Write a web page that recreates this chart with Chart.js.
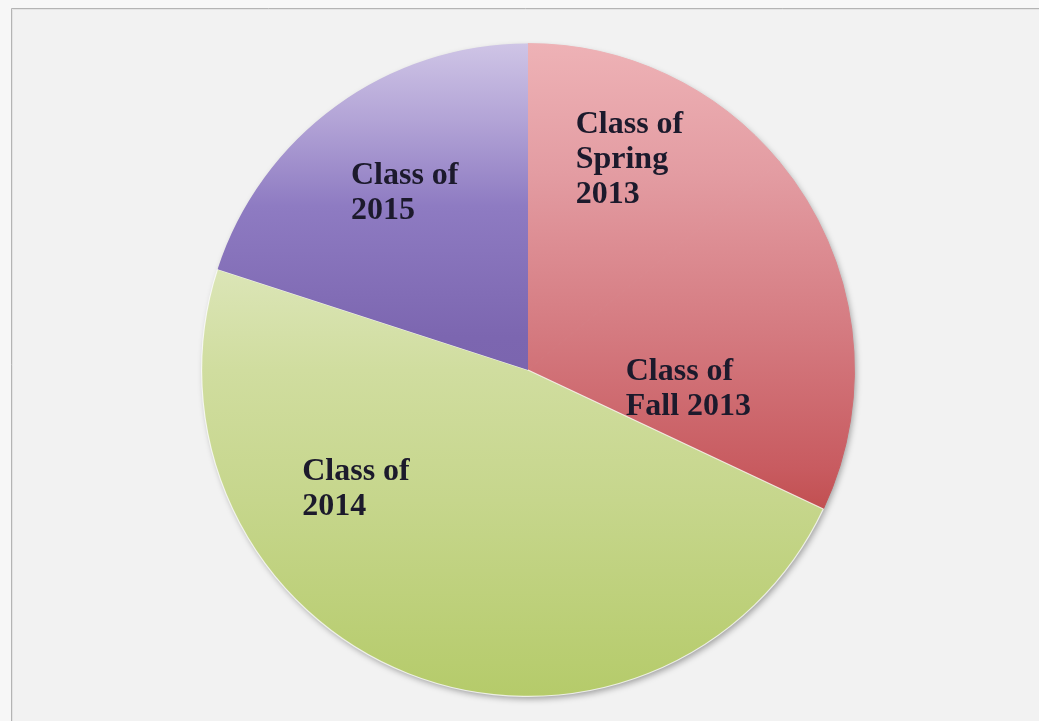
<!DOCTYPE html>
<html>
<head>
<meta charset="utf-8">
<script src="https://cdn.jsdelivr.net/npm/chart.js@4/dist/chart.umd.min.js"></script>
<style>
  html, body { margin: 0; padding: 0; background: #f6f6f6; }
  #wrap { width: 1039px; height: 721px; }
</style>
</head>
<body>
<div id="wrap"><canvas id="c" width="1039" height="721"></canvas></div>
<script>
// ---- data ----
const categories = ['Class of Spring 2013', 'Class of Fall 2013', 'Class of 2014', 'Class of 2015'];
const labelLines = [['Class of', 'Spring', '2013'], ['Class of', 'Fall 2013'], ['Class of', '2014'], ['Class of', '2015']];
const shares = [14, 18, 48, 20];

// ---- styles ----
const redStops = [[0, '#eeb2b6'], [0.2, '#e39ca2'], [0.45, '#d4797f'], [0.65, '#c85b60'], [0.72, '#c14e4f'], [1, '#b84444']];
const gradientStops = [
  redStops,
  redStops,
  [[0, '#e8eecf'], [0.35, '#dbe5b6'], [0.5, '#d0dd9f'], [0.7, '#c6d68c'], [1, '#b5cb6a']],
  [[0, '#cfc5e6'], [0.12, '#b2a3d6'], [0.25, '#8e7bc2'], [0.45, '#7c66b0'], [1, '#6f5aa0']]
];
const borderWidths = [1, 1, 1.2, 0];
// label placement: angle (deg, clockwise from 12 o'clock) and fraction of radius
const labelPlacement = [
  { angle: 25.5, r: 0.722 },
  { angle: 96.0, r: 0.494 },
  { angle: 235.7, r: 0.638 },
  { angle: 325.4, r: 0.665 }
];

function sliceGradient(ctx) {
  const chart = ctx.chart;
  const area = chart.chartArea;
  if (!area) return '#ccc';
  const g = chart.ctx.createLinearGradient(0, area.top, 0, area.bottom);
  gradientStops[ctx.dataIndex].forEach(s => g.addColorStop(s[0], s[1]));
  return g;
}
function sliceBorder(ctx) {
  if (ctx.dataIndex === 2) return 'rgba(255,255,255,0.75)';
  return sliceGradient(ctx);
}

const framePlugin = {
  id: 'frame',
  beforeDraw(chart) {
    const c = chart.ctx;
    c.save();
    c.fillStyle = '#f7f7f7';
    c.fillRect(0, 0, chart.width, chart.height);
    c.fillStyle = '#f2f2f2';
    c.fillRect(11, 8, chart.width - 11, chart.height - 8);
    c.strokeStyle = '#b4b4b4';
    c.lineWidth = 1;
    c.beginPath();
    c.moveTo(11.5, chart.height); c.lineTo(11.5, 8.5); c.lineTo(chart.width, 8.5);
    c.stroke();
    c.strokeStyle = '#e4e4e4';
    c.beginPath();
    c.moveTo(12.5, chart.height); c.lineTo(12.5, 9.5); c.lineTo(chart.width, 9.5);
    c.stroke();
    c.restore();
  },
  beforeDatasetsDraw(chart) {
    const arc = chart.getDatasetMeta(0).data[0];
    if (!arc) return;
    const c = chart.ctx;
    c.save();
    c.shadowColor = 'rgba(0,0,0,0.35)';
    c.shadowBlur = 6;
    c.shadowOffsetX = 2;
    c.shadowOffsetY = 3;
    c.fillStyle = '#c8c8c8';
    c.beginPath();
    c.arc(arc.x, arc.y, arc.outerRadius - 0.5, 0, Math.PI * 2);
    c.fill();
    c.restore();
  }
};

const labelPlugin = {
  id: 'sliceLabels',
  afterDatasetsDraw(chart) {
    const meta = chart.getDatasetMeta(0);
    const c = chart.ctx;
    const fontSize = 32, lineH = 35, cap = 21;
    c.save();
    c.font = 'bold ' + fontSize + 'px "Liberation Serif", serif';
    c.fillStyle = '#1c1a2c';
    c.textAlign = 'left';
    c.textBaseline = 'alphabetic';
    meta.data.forEach((arc, i) => {
      const p = labelPlacement[i];
      const a = (p.angle - 90) * Math.PI / 180;
      const cx = arc.x + Math.cos(a) * arc.outerRadius * p.r;
      const cy = arc.y + Math.sin(a) * arc.outerRadius * p.r;
      const lines = labelLines[i];
      const w = Math.max(...lines.map(t => c.measureText(t).width));
      const h = cap + (lines.length - 1) * lineH;
      const x0 = cx - w / 2;
      let y = cy - h / 2 + cap;
      lines.forEach(t => { c.fillText(t, x0, y); y += lineH; });
    });
    c.restore();
  }
};

new Chart(document.getElementById('c'), {
  type: 'pie',
  data: {
    labels: categories,
    datasets: [{
      data: shares,
      backgroundColor: sliceGradient,
      borderWidth: borderWidths,
      borderColor: sliceBorder
    }]
  },
  options: {
    responsive: false,
    devicePixelRatio: 1,
    animation: false,
    layout: { padding: { left: 201, right: 184, top: 43, bottom: 24 } },
    plugins: { legend: { display: false }, tooltip: { enabled: false } }
  },
  plugins: [framePlugin, labelPlugin]
});
</script>
</body>
</html>
